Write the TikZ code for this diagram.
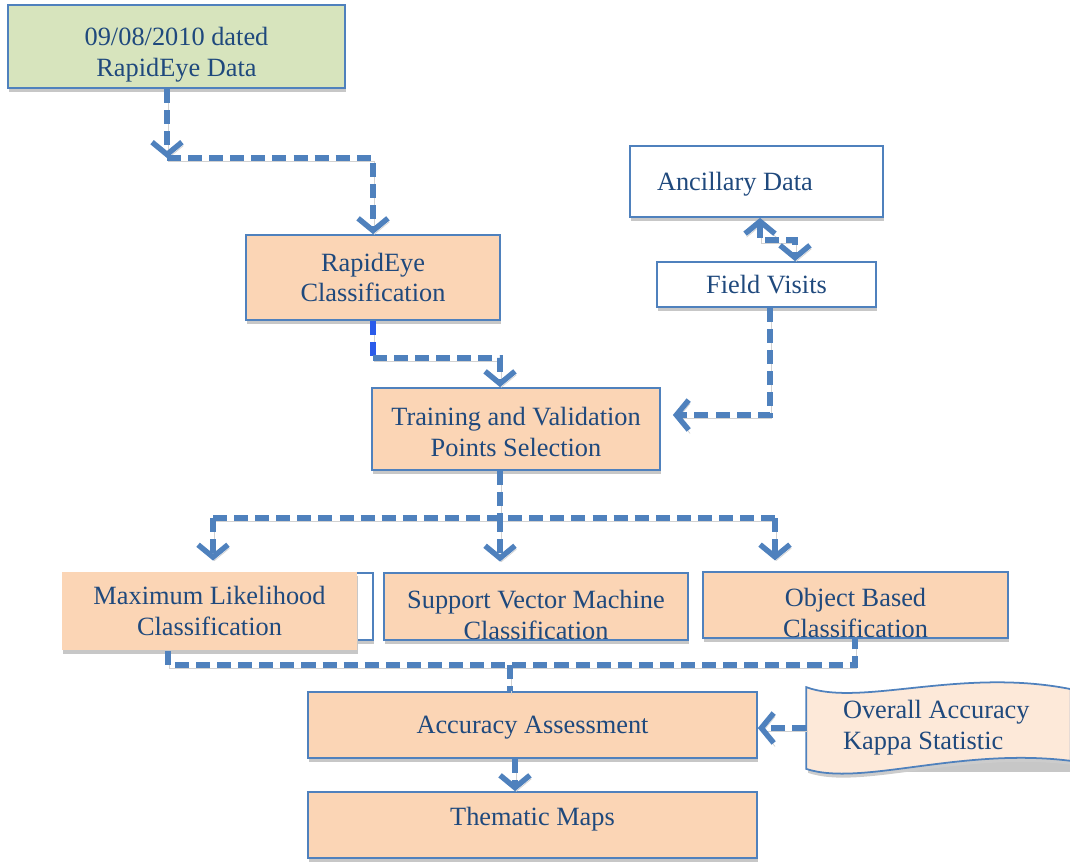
\documentclass[tikz,border=0pt]{standalone}
\usepackage{fontspec}
\setmainfont{Liberation Serif}
\usetikzlibrary{arrows.meta,shadows,calc}
\definecolor{linecol}{HTML}{4F81BD}
\definecolor{txtcol}{HTML}{1F497D}
\definecolor{peach}{HTML}{FBD5B5}
\definecolor{paleg}{HTML}{D7E4BD}
\definecolor{palepeach}{HTML}{FDE9D9}
\definecolor{brightblue}{HTML}{2A5BEA}
% strut that pushes the first line down
\newcommand\tstrut[1]{\rule{0pt}{#1}}
\tikzset{
  box/.style={draw=linecol, line width=1pt, fill=peach, text=txtcol, align=center, inner sep=0pt,
    font=\fontsize{15}{17.6}\selectfont,
    drop shadow={shadow xshift=0.6pt, shadow yshift=-2.2pt, fill=black!22, opacity=1}},
  flow/.style={draw=linecol, line width=3.1pt, dash pattern=on 8pt off 4pt,
    >={Straight Barb[length=7pt,width=17pt]},
    preaction={draw=black!18, transform canvas={shift={(0.8pt,-2pt)}}}},
}
\begin{document}
\begin{tikzpicture}[x=0.02cm, y=-0.02cm]
\useasboundingbox (0,0) rectangle (1070,862);
% boxes
\node[box, fill=paleg, minimum width=6.74cm, minimum height=1.66cm] (data) at (176.5,46.5) {\tstrut{20pt}09/08/2010 dated\\RapidEye Data};
\node[box, minimum width=5.08cm, minimum height=1.7cm] (rapid) at (373,277.5) {RapidEye\\Classification};
\node[box, fill=white, minimum width=5.06cm, minimum height=1.42cm, text width=3.98cm, inner xsep=0.54cm, align=flush left] (anc) at (756.5,181.5) {\tstrut{14pt}Ancillary Data};
\node[box, fill=white, minimum width=4.38cm, minimum height=0.9cm] (field) at (766.5,284.5) {Field Visits};
\node[box, minimum width=5.76cm, minimum height=1.64cm] (train) at (516,429) {\tstrut{14pt}Training and Validation\\Points Selection};
\draw[draw=linecol, line width=1pt, fill=white, drop shadow={shadow xshift=0.6pt, shadow yshift=-2.2pt, fill=black!22, opacity=1}] (65,573) rectangle (373,640);
\node[box, draw=none, drop shadow={opacity=0}, minimum width=5.9cm, minimum height=1.56cm] (ml) at (209.5,611) {Maximum Likelihood\\Classification};
\node[box, minimum width=6.08cm, minimum height=1.34cm] (svm) at (536,606.5) {\tstrut{20pt}Support Vector Machine\\Classification};
\node[box, minimum width=6.1cm, minimum height=1.32cm] (obc) at (855.5,605) {\tstrut{20pt}Object Based\\Classification};
\node[box, minimum width=8.98cm, minimum height=1.32cm, text height=13pt] (acc) at (532.5,725) {Accuracy Assessment};
\node[box, minimum width=8.98cm, minimum height=1.32cm, text depth=10pt] (them) at (532.5,825) {Thematic Maps};
% wavy note
\node[box, draw=none, fill=none, drop shadow={opacity=0}, minimum width=5.26cm, minimum height=1.6cm, text width=3.82cm, inner xsep=0.72cm, align=flush left] (ovr) at (938.5,728) {};
\fill[black!20] ($(ovr.north west)+(2,4)$) .. controls ($(ovr.north west)+(55,24)$) and ($(ovr.north east)+(-110,-16)$) .. ($(ovr.north east)+(2,6)$)
  -- ($(ovr.south east)+(2,-4)$) .. controls ($(ovr.south east)+(-110,-18)$) and ($(ovr.south west)+(55,22)$) .. ($(ovr.south west)+(2,4)$) -- cycle;
\draw[draw=linecol, line width=1pt, fill=palepeach] (ovr.north west) .. controls ($(ovr.north west)+(55,20)$) and ($(ovr.north east)+(-110,-20)$) .. ($(ovr.north east)+(0,2)$)
  -- ($(ovr.south east)+(0,-8)$) .. controls ($(ovr.south east)+(-110,-22)$) and ($(ovr.south west)+(55,18)$) .. ($(ovr.south west)+(0,0)$) -- cycle;
\node[text=txtcol, font=\fontsize{15}{17.6}\selectfont, text width=3.82cm, align=flush left] at (ovr) {Overall Accuracy\\Kappa Statistic};
% connectors
\coordinate (k1) at (167,158);
\draw[flow,->] (data.south -| k1) -- (k1);
\draw[flow,->] (k1) -| (rapid.north);
\coordinate (k2) at (500,358);
\draw[flow, draw=brightblue] (rapid.south) -- (rapid.south |- k2);
\draw[flow,->] (rapid.south |- k2) -- (k2) -- (train.north -| k2);
\coordinate (k3) at (760,240);
\coordinate (k4) at (795,240);
\draw[flow,<->] (anc.south -| k3) -- (k3) -- (k4) -- (field.north -| k4);
\coordinate (k5) at (770,415);
\draw[flow,->] (field.south -| k5) -- (k5) -- ($(train.east |- k5)+(12,0)$);
\coordinate (k6) at (500,518);
\coordinate (k7) at (213,518);
\coordinate (k8) at (775,518);
\draw[flow] (train.south -| k6) -- (k6);
\draw[flow] (k7) -- (k8);
\draw[flow,->,shorten >=6pt] (k7) -- (ml.north -| k7);
\draw[flow,->,shorten >=6pt] (k6) -- (svm.north -| k6);
\draw[flow,->,shorten >=6pt] (k8) -- (obc.north -| k8);
\coordinate (k9) at (168,665);
\coordinate (k10) at (855,665);
\coordinate (k11) at (510,665);
\draw[flow] (ml.south -| k9) -- (k9) -- (k10) -- (obc.south -| k10);
\draw[flow] (k11) -- (acc.north -| k11);
\coordinate (k12) at (515,775);
\draw[flow,->] (acc.south -| k12) -- (them.north -| k12);
\draw[flow,->] (ovr.west) -- (acc.east |- ovr.west);
\end{tikzpicture}
\end{document}
